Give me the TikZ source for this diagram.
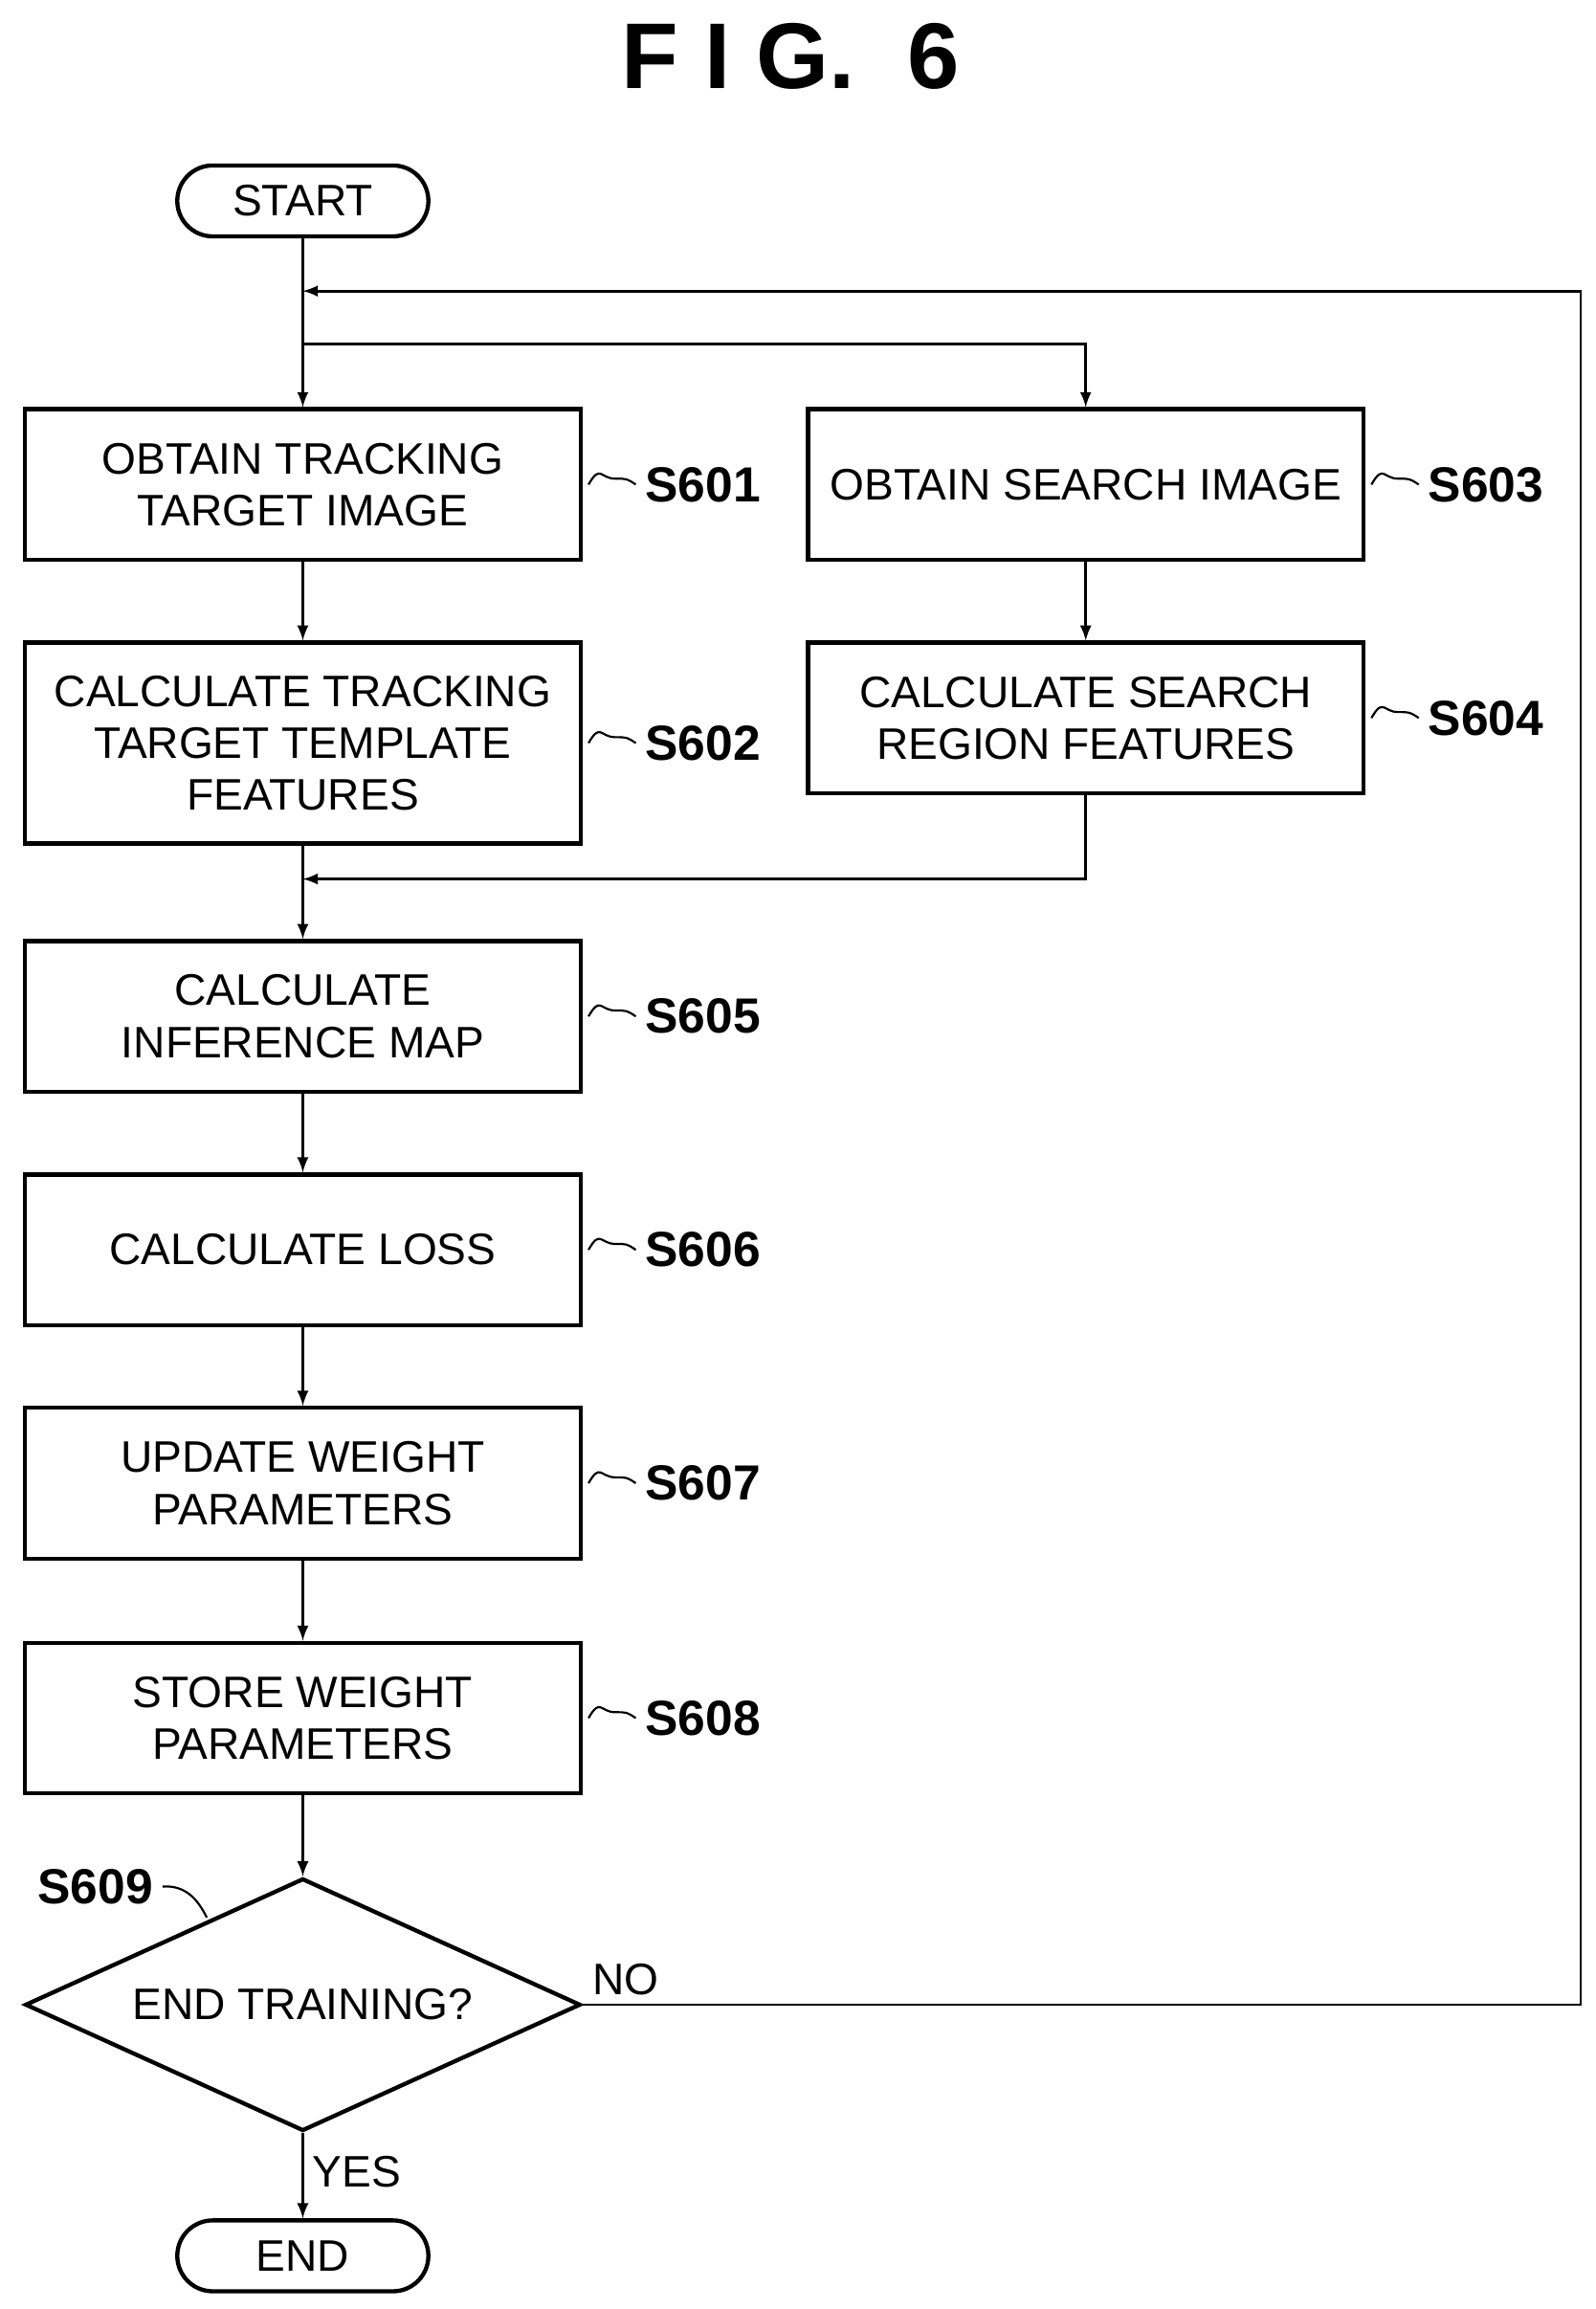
\documentclass[tikz,border=0pt]{standalone}
\usepackage{fontspec}
\setmainfont{Liberation Sans}
\usetikzlibrary{shapes.geometric}
\begin{document}
\begin{tikzpicture}[x=0.02cm,y=-0.02cm,font=\fontsize{17}{20}\selectfont,
  every node/.style = {align=center},
  step box/.style = {draw, line width=1.6pt, minimum width=376*0.02cm, inner sep=0pt},
  term box/.style = {draw, line width=1.6pt, rounded corners=24*0.02cm, minimum width=170*0.02cm, minimum height=48*0.02cm},
  step label/.style = {font=\fontsize{19}{22}\selectfont\bfseries, anchor=west},
  flow edge/.style = {-latex, line width=1pt},
  plain edge/.style = {line width=1pt}]
\useasboundingbox (0,0) rectangle (1080,1563);
\node at (535,38) {\fontsize{36}{40}\selectfont\bfseries F I G. \ 6};
\node[term box](start) at (205,136) {START};
\node[step box, minimum height=102*0.02cm](s601) at (205,328) {OBTAIN TRACKING\\TARGET IMAGE};
\node[step box, minimum height=136*0.02cm](s602) at (205,503) {CALCULATE TRACKING\\TARGET TEMPLATE\\FEATURES};
\node[step box, minimum height=102*0.02cm](s603) at (735,328) {OBTAIN SEARCH IMAGE};
\node[step box, minimum height=102*0.02cm](s604) at (735,486) {CALCULATE SEARCH\\REGION FEATURES};
\node[step box, minimum height=102*0.02cm](s605) at (205,688) {CALCULATE\\INFERENCE MAP};
\node[step box, minimum height=102*0.02cm](s606) at (205,846) {CALCULATE LOSS};
\node[step box, minimum height=102*0.02cm](s607) at (205,1004) {UPDATE WEIGHT\\PARAMETERS};
\node[step box, minimum height=102*0.02cm](s608) at (205,1163) {STORE WEIGHT\\PARAMETERS};
\node[draw, line width=1.6pt, diamond, aspect=2.2, minimum width=376*0.02cm, minimum height=171*0.02cm, inner sep=0pt](s609) at (205,1357) {END TRAINING?};
\node[term box](end) at (205,1527) {END};
% step labels
\foreach \n/\t in {s601/S601,s602/S602,s603/S603,s604/S604,s605/S605,s606/S606,s607/S607,s608/S608}
  { \draw[line width=0.8pt] (\n.east) ++(4,0) .. controls +(8,-14) and +(-10,0) .. ++(18,-4) .. controls +(8,0) and +(-6,-4) .. ++(14,4) node[step label]{\t}; }
\draw[line width=0.8pt] (140,1298) .. controls (134,1286) and (126,1276) .. (110,1277) node[step label, anchor=east]{S609};
% connectors
\coordinate (loop) at (205,197);
\coordinate (fork) at (205,233);
\coordinate (join) at (205,595);
\draw[plain edge] (start) -- (loop) -- (fork);
\draw[flow edge] (fork) -- (s601);
\draw[flow edge] (fork) -| (s603);
\draw[flow edge] (s601) -- (s602);
\draw[flow edge] (s603) -- (s604);
\draw[plain edge] (s602) -- (join);
\draw[flow edge] (s604) |- (join);
\draw[flow edge] (join) -- (s605);
\draw[flow edge] (s605) -- (s606);
\draw[flow edge] (s606) -- (s607);
\draw[flow edge] (s607) -- (s608);
\draw[flow edge] (s608) -- (s609);
\draw[flow edge] (s609) -- node[right, pos=0.45]{YES} (end);
\draw[flow edge] (s609.east) node[above right]{NO} -- (1070,1357) -- (1070,197) -- (loop);
\end{tikzpicture}
\end{document}
